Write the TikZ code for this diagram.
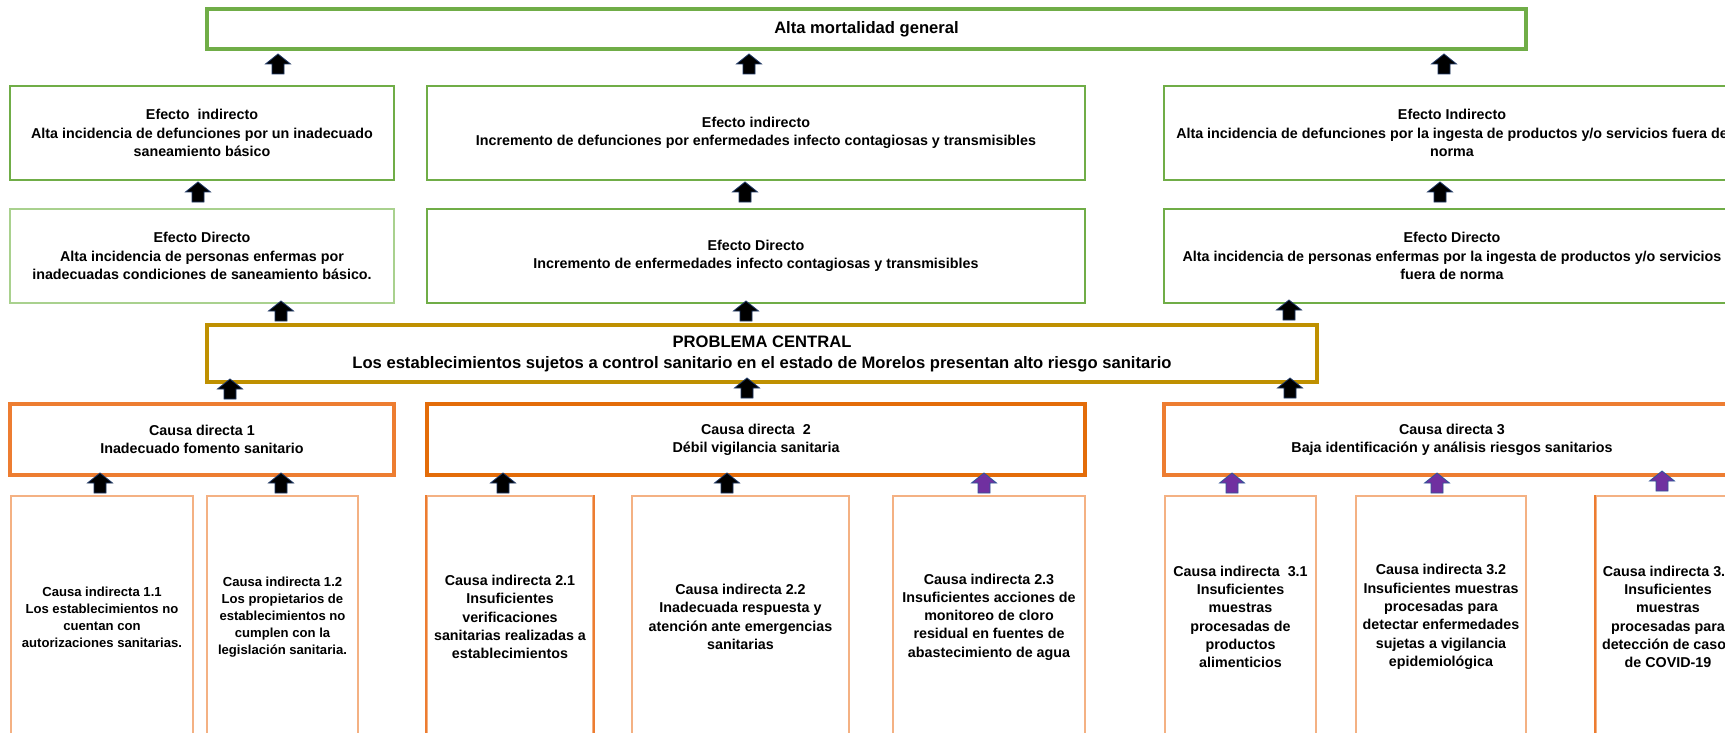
\documentclass[tikz,border=0pt]{standalone}
\usepackage{fontspec}
\setmainfont{Liberation Sans}
\definecolor{cgreen}{HTML}{70AD47}
\definecolor{clgreen}{HTML}{A9D18E}
\definecolor{cgold}{HTML}{BF9000}
\definecolor{corange}{HTML}{ED7D31}
\definecolor{cdorange}{HTML}{E36C09}
\definecolor{clorange}{HTML}{F4B183}
\definecolor{cpurple}{HTML}{7030A0}
\definecolor{cnavy}{HTML}{1F3864}
\definecolor{cblueline}{HTML}{2F5597}
\newcommand{\myuparrow}[2]{\filldraw[#2] (#1) ++(-6,0) -- ++(12,0) -- ++(0,-10) -- ++(6.5,0) -- ++(-12.5,-10) -- ++(-12.5,10) -- ++(6.5,0) -- cycle;}
\tikzset{
  box/.style={draw, rectangle, inner sep=0pt, align=center, font=\bfseries\fontsize{14.3}{18.3}\selectfont},
  bigbox/.style={box, font=\bfseries\fontsize{16.6}{21}\selectfont},
  topbox/.style={bigbox, draw=cgreen, line width=4pt},
  effbox/.style={box, draw=cgreen, line width=2.5pt},
  effboxl/.style={box, draw=clgreen, line width=2.5pt},
  probbox/.style={bigbox, draw=cgold, line width=3.2pt},
  cdbox/.style={box, draw=corange, line width=3.5pt},
  cdboxd/.style={box, draw=cdorange, line width=3.5pt},
  cibox/.style={box, draw=clorange, line width=2pt},
  ciboxs/.style={cibox, font=\bfseries\fontsize{13.1}{17}\selectfont},
  blackarrow/.style={fill=black, draw=cnavy, line width=0.8pt},
  purplearrow/.style={fill=cpurple, draw=cblueline, line width=0.8pt},
}
\begin{document}
\begin{tikzpicture}[x=1pt, y=-1pt]
\useasboundingbox (0,0) rectangle (1725,733);
\clip (0,0) rectangle (1725,733);
\fill[white] (0,0) rectangle (1725,733);

% top
\node[topbox, minimum width=1319pt, minimum height=40pt] (top) at (866.5,29) {Alta mortalidad general};

% effects indirect
\node[effbox, minimum width=384pt, minimum height=94pt] (ei1) at (202,133) {Efecto~ indirecto\\Alta incidencia de defunciones por un inadecuado\\saneamiento básico};
\node[effbox, minimum width=658pt, minimum height=94pt] (ei2) at (756,133) {Efecto indirecto\\Incremento de defunciones por enfermedades infecto contagiosas y transmisibles};
\node[effbox, minimum width=576pt, minimum height=94pt] (ei3) at (1452,133) {Efecto Indirecto\\Alta incidencia de defunciones por la ingesta de productos y/o servicios fuera de\\norma};

% effects direct
\node[effboxl, minimum width=384pt, minimum height=94pt] (ed1) at (202,256) {Efecto Directo\\Alta incidencia de personas enfermas por\\inadecuadas condiciones de saneamiento básico.};
\node[effbox, minimum width=658pt, minimum height=94pt] (ed2) at (756,256) {Efecto Directo\\Incremento de enfermedades infecto contagiosas y transmisibles};
\node[effbox, minimum width=576pt, minimum height=94pt] (ed3) at (1452,256) {Efecto Directo\\Alta incidencia de personas enfermas por la ingesta de productos y/o servicios\\fuera de norma};

% central problem
\node[probbox, minimum width=1110pt, minimum height=57pt] (pc) at (762,353.5) {PROBLEMA CENTRAL\\Los establecimientos sujetos a control sanitario en el estado de Morelos presentan alto riesgo sanitario};

% direct causes
\node[cdbox, minimum width=384pt, minimum height=71pt] (cd1) at (202,439.5) {Causa directa 1\\Inadecuado fomento sanitario};
\node[cdboxd, minimum width=658pt, minimum height=71pt] (cd2) at (756,439.5) {Causa directa~ 2\\Débil vigilancia sanitaria};
\node[cdbox, minimum width=576pt, minimum height=71pt] (cd3) at (1452,439.5) {Causa directa 3\\Baja identificación y análisis riesgos sanitarios};

% indirect causes
\node[ciboxs, minimum width=182pt, minimum height=242pt] (ci11) at (102,617) {Causa indirecta 1.1\\Los establecimientos no\\cuentan con\\autorizaciones sanitarias.};
\node[ciboxs, minimum width=151pt, minimum height=242pt] (ci12) at (282.5,617) {Causa indirecta 1.2\\Los propietarios de\\establecimientos no\\cumplen con la\\legislación sanitaria.};
\node[cibox, minimum width=166pt, minimum height=242pt] (ci21) at (510,617) {Causa indirecta 2.1\\Insuficientes\\verificaciones\\sanitarias realizadas a\\establecimientos};
\node[cibox, minimum width=217pt, minimum height=242pt] (ci22) at (740.5,617) {Causa indirecta 2.2\\Inadecuada respuesta y\\atención ante emergencias\\sanitarias};
\node[cibox, minimum width=192pt, minimum height=242pt] (ci23) at (989,617) {Causa indirecta 2.3\\Insuficientes acciones de\\monitoreo de cloro\\residual en fuentes de\\abastecimiento de agua};
\node[cibox, minimum width=151pt, minimum height=242pt] (ci31) at (1240.5,617) {Causa indirecta~ 3.1\\Insuficientes\\muestras\\procesadas de\\productos\\alimenticios};
\node[cibox, minimum width=170pt, minimum height=242pt] (ci32) at (1441,617) {Causa indirecta 3.2\\Insuficientes muestras\\procesadas para\\detectar enfermedades\\sujetas a vigilancia\\epidemiológica};
\node[cibox, minimum width=144pt, minimum height=242pt] (ci33) at (1668,617) {Causa indirecta 3.3\\Insuficientes\\muestras\\procesadas para\\detección de casos\\de COVID-19};

% darker edges
\draw[corange, line width=2pt] (ci21.north west) -- (ci21.south west);
\draw[corange, line width=2pt] (ci21.north east) -- (ci21.south east);
\draw[corange, line width=2pt] (ci33.north west) -- (ci33.south west);

% arrow feet
\coordinate (a11) at (278,74);
\coordinate (a12) at (749,74);
\coordinate (a13) at (1444,74);
\coordinate (a21) at (198,202);
\coordinate (a22) at (745,202);
\coordinate (a23) at (1440,202);
\coordinate (a31) at (281,321);
\coordinate (a32) at (746,321);
\coordinate (a33) at (1289,320);
\coordinate (a41) at (230,399);
\coordinate (a42) at (747,398);
\coordinate (a43) at (1290,398);
\coordinate (a51) at (100,493);
\coordinate (a52) at (281,493);
\coordinate (a53) at (503,493);
\coordinate (a54) at (727,493);
\coordinate (a55) at (984,493);
\coordinate (a56) at (1232,493);
\coordinate (a57) at (1437,493);
\coordinate (a58) at (1662,491);

\foreach \a in {a11,a12,a13,a21,a22,a23,a31,a32,a33,a41,a42,a43,a51,a52,a53,a54}{\myuparrow{\a}{blackarrow}}
\foreach \a in {a55,a56,a57,a58}{\myuparrow{\a}{purplearrow}}
\end{tikzpicture}
\end{document}
